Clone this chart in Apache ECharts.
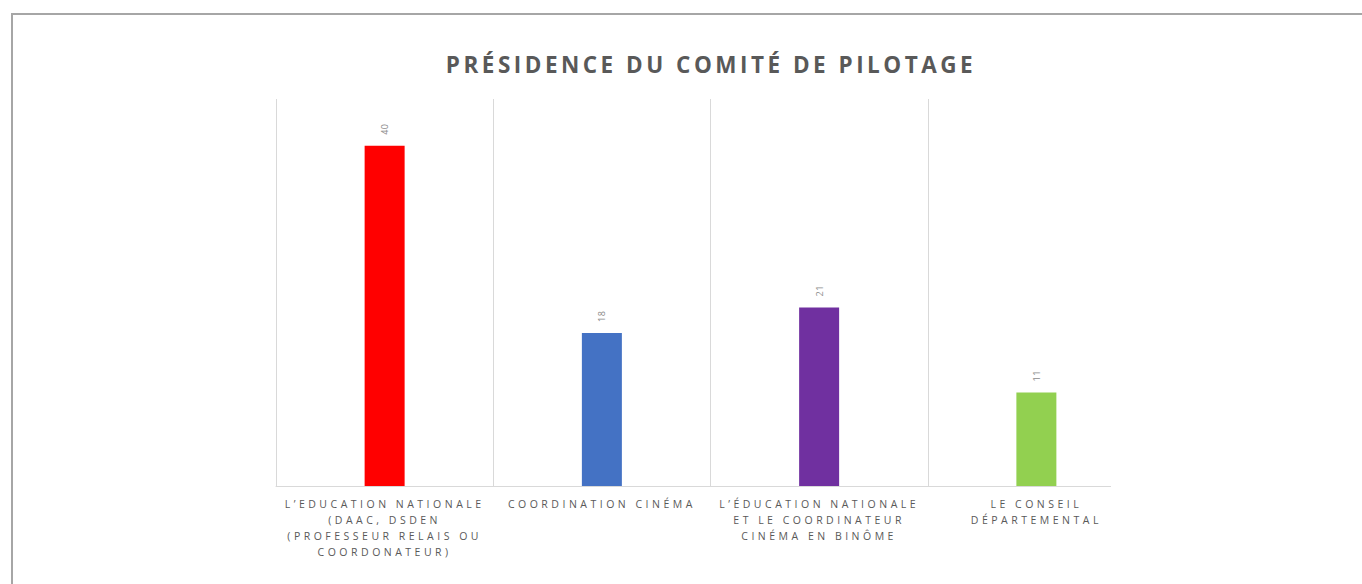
<!DOCTYPE html>
<html lang="fr">
<head>
<meta charset="utf-8">
<title>Présidence du comité de pilotage</title>
<script src="https://cdn.jsdelivr.net/npm/echarts@6/dist/echarts.min.js"></script>
<style>
  html, body { margin: 0; padding: 0; background: #ffffff; }
  #page { position: relative; width: 1362px; height: 584px; overflow: hidden; }
  /* thin grey frame around the document page */
  #frame {
    position: absolute; left: 11px; top: 13px; right: -4px; bottom: -4px;
    border-top: 2px solid #a6a6a6; border-left: 2px solid #a6a6a6;
  }
  #chart { position: absolute; left: 0; top: 0; width: 1362px; height: 584px; }
  /* Office-style tracked capitals */
  #chart text { letter-spacing: 3.5px; }
  /* value labels stay tight */
  #chart text[style*=" 9px"] { letter-spacing: 0.5px; }
</style>
</head>
<body>
<div id="page">
  <div id="frame"></div>
  <div id="chart"></div>
</div>
<script>
// Qui préside le comité de pilotage (nombre de réponses)
const chartTitle = 'PRÉSIDENCE DU COMITÉ DE PILOTAGE';
const categories = [
  'L\u2019EDUCATION NATIONALE\n(DAAC, DSDEN\n(PROFESSEUR RELAIS OU\nCOORDONATEUR)',
  'COORDINATION CINÉMA',
  'L\u2019ÉDUCATION NATIONALE\nET LE COORDINATEUR\nCINÉMA EN BINÔME',
  'LE CONSEIL\nDÉPARTEMENTAL'
];
const values = [40, 18, 21, 11];
const barColors = ['#ff0000', '#4472c4', '#7030a0', '#92d050'];

const chart = echarts.init(document.getElementById('chart'), null, { renderer: 'svg' });

chart.setOption({
  animation: false,
  backgroundColor: 'transparent',
  title: {
    text: chartTitle,
    left: 706,
    top: 48,
    textAlign: 'center',
    textStyle: {
      fontFamily: 'Open Sans',
      fontSize: 22.5,
      fontWeight: 'bold',
      color: '#595959'
    }
  },
  grid: { left: 276, right: 217, top: 99, bottom: 98, containLabel: false },
  xAxis: {
    type: 'category',
    data: categories,
    boundaryGap: true,
    axisLine: { show: true, lineStyle: { color: '#d9d9d9', width: 1 } },
    axisTick: { show: false },
    splitLine: { show: true, lineStyle: { color: '#d9d9d9', width: 1 } },
    axisLabel: {
      interval: 0,
      margin: 10,
      fontFamily: 'Open Sans',
      fontSize: 10.5,
      lineHeight: 16,
      color: '#595959',
      align: 'center'
    }
  },
  yAxis: {
    type: 'value',
    min: 0,
    max: 45.5,
    show: false,
    splitLine: { show: false }
  },
  series: [{
    type: 'bar',
    barWidth: 40,
    data: values.map((v, i) => ({ value: v, itemStyle: { color: barColors[i] } })),
    label: {
      show: true,
      position: 'top',
      distance: 11,
      rotate: 90,
      align: 'left',
      verticalAlign: 'middle',
      fontFamily: 'Open Sans',
      fontSize: 9,
      color: '#8c8c8c'
    }
  }],
  // the chart panel is trimmed on its right side
  graphic: [{
    type: 'rect',
    z: 100,
    shape: { x: 1111, y: 90, width: 60, height: 400 },
    style: { fill: '#ffffff' }
  }]
});
</script>
</body>
</html>
